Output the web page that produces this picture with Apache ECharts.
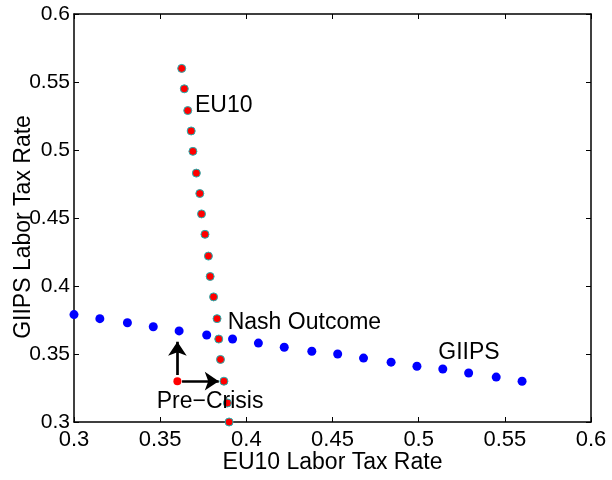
<!DOCTYPE html>
<html>
<head>
<meta charset="utf-8">
<script src="https://cdn.jsdelivr.net/npm/echarts@6/dist/echarts.min.js"></script>
<style>html,body{margin:0;padding:0;background:#fff;}#c{width:612px;height:480px;}</style>
</head>
<body>
<div id="c"></div>
<script>
// GIIPS best-response points (x = EU10 rate, y = GIIPS rate)
var giipsX = [0.300, 0.315, 0.331, 0.346, 0.361, 0.377, 0.392, 0.407, 0.422, 0.438, 0.453, 0.468, 0.484, 0.499, 0.514, 0.529, 0.545, 0.560];
var giipsY = [0.379, 0.376, 0.373, 0.370, 0.367, 0.364, 0.361, 0.358, 0.355, 0.352, 0.350, 0.347, 0.344, 0.341, 0.339, 0.336, 0.333, 0.330];
// EU10 best-response points
var eu10X = [0.390, 0.389, 0.387, 0.385, 0.384, 0.383, 0.381, 0.379, 0.378, 0.376, 0.374, 0.373, 0.371, 0.369, 0.368, 0.366, 0.364, 0.3625];
var eu10Y = [0.300, 0.314, 0.330, 0.346, 0.361, 0.376, 0.392, 0.407, 0.422, 0.438, 0.453, 0.468, 0.483, 0.499, 0.514, 0.529, 0.545, 0.560];
// Pre-crisis point
var preCrisis = [0.360, 0.330];
// Arrows (start, end) in data units
var arrowH = [[0.3627, 0.330], [0.3840, 0.330]];
var arrowV = [[0.3600, 0.3346], [0.3600, 0.3590]];
// Text annotations (left-middle anchor in data units)
var labelText = ['EU10', 'Nash Outcome', 'GIIPS', 'Pre\u2212Crisis'];
var labelX = [0.3702, 0.3892, 0.5114, 0.3480];
var labelY = [0.5324, 0.3728, 0.3507, 0.3147];
// Axis ticks
var axisMin = 0.3, axisMax = 0.6, axisStep = 0.05;

function zip(a, b) { return a.map(function (v, i) { return [v, b[i]]; }); }

var FONT = 'Liberation Sans';
var chart = echarts.init(document.getElementById('c'), null, {renderer: 'canvas'});
var frameAxis = {
  type: 'value', min: axisMin, max: axisMax, interval: axisStep,
  axisLine: {show: true, onZero: false, lineStyle: {color: '#000', width: 1.5}},
  axisTick: {show: true, inside: true, length: 5, lineStyle: {color: '#000', width: 1}},
  splitLine: {show: false}
};
chart.setOption({
  animation: false,
  backgroundColor: '#fff',
  grid: {left: 74, right: 21, top: 14, bottom: 58, containLabel: false, outerBoundsMode: 'none'},
  xAxis: [
    Object.assign({}, frameAxis, {
      position: 'bottom',
      name: 'EU10 Labor Tax Rate', nameLocation: 'middle', nameGap: 29, nameMoveOverlap: false,
      nameTextStyle: {fontFamily: FONT, fontSize: 23, color: '#000'},
      axisLabel: {show: true, margin: 7, fontFamily: FONT, fontSize: 22, color: '#000'}
    }),
    Object.assign({}, frameAxis, {position: 'top', axisLabel: {show: false}})
  ],
  yAxis: [
    Object.assign({}, frameAxis, {
      position: 'left',
      name: 'GIIPS Labor Tax Rate', nameLocation: 'middle', nameGap: 39, nameMoveOverlap: false,
      nameTextStyle: {fontFamily: FONT, fontSize: 23, color: '#000', padding: [0, 18, 0, 0]},
      axisLabel: {show: true, margin: 4, fontFamily: FONT, fontSize: 21, color: '#000'}
    }),
    Object.assign({}, frameAxis, {position: 'right', axisLabel: {show: false}})
  ],
  series: [
    {
      type: 'scatter', name: 'GIIPS', data: zip(giipsX, giipsY),
      symbol: 'circle', symbolSize: 9,
      itemStyle: {color: '#0000ff', opacity: 1}, z: 3
    },
    {
      type: 'scatter', name: 'EU10', data: zip(eu10X, eu10Y),
      symbol: 'circle', symbolSize: 8, clip: false,
      itemStyle: {color: '#ff0000', borderColor: '#1fb3b3', borderWidth: 1, opacity: 1}, z: 3
    },
    {
      type: 'scatter', name: 'Pre-Crisis', data: [preCrisis],
      symbol: 'circle', symbolSize: 8,
      itemStyle: {color: '#ff0000', opacity: 1}, z: 3
    },
    {
      type: 'lines', coordinateSystem: 'cartesian2d',
      data: [{coords: arrowH}, {coords: arrowV}],
      symbol: ['none', 'arrow'], symbolSize: 14,
      lineStyle: {color: '#000', width: 2.7, opacity: 1, curveness: 0},
      z: 4
    },
    {
      type: 'scatter', name: 'labels',
      data: labelText.map(function (t, i) { return [labelX[i], labelY[i], t]; }),
      symbolSize: 0, z: 5,
      itemStyle: {opacity: 1},
      label: {
        show: true, position: 'right', distance: 0,
        formatter: function (p) { return p.value[2]; },
        fontFamily: FONT, fontSize: 23, color: '#000', opacity: 1
      }
    }
  ]
});
</script>
</body>
</html>
